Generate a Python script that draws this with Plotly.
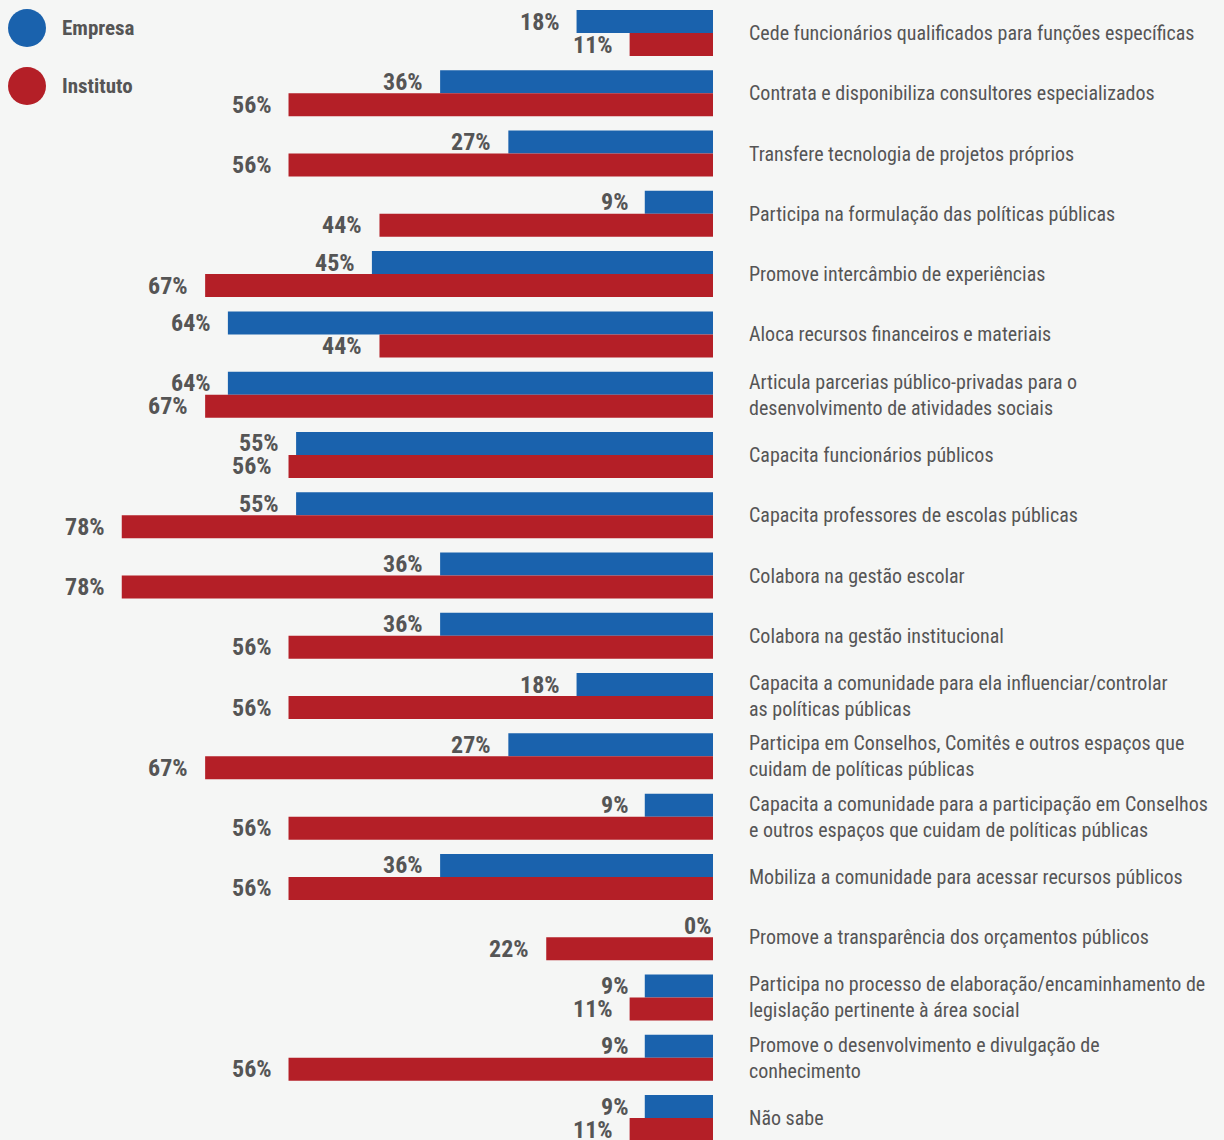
import plotly.graph_objects as go

categories = [
    "Cede funcionários qualificados para funções específicas",
    "Contrata e disponibiliza consultores especializados",
    "Transfere tecnologia de projetos próprios",
    "Participa na formulação das políticas públicas",
    "Promove intercâmbio de experiências",
    "Aloca recursos financeiros e materiais",
    "Articula parcerias público-privadas para o<br>desenvolvimento de atividades sociais",
    "Capacita funcionários públicos",
    "Capacita professores de escolas públicas",
    "Colabora na gestão escolar",
    "Colabora na gestão institucional",
    "Capacita a comunidade para ela influenciar/controlar<br>as políticas públicas",
    "Participa em Conselhos, Comitês e outros espaços que<br>cuidam de políticas públicas",
    "Capacita a comunidade para a participação em Conselhos<br>e outros espaços que cuidam de políticas públicas",
    "Mobiliza a comunidade para acessar recursos públicos",
    "Promove a transparência dos orçamentos públicos",
    "Participa no processo de elaboração/encaminhamento de<br>legislação pertinente à área social",
    "Promove o desenvolvimento e divulgação de<br>conhecimento",
    "Não sabe",
]
empresa = [18, 36, 27, 9, 45, 64, 64, 55, 55, 36, 36, 18, 27, 9, 36, 0, 9, 9, 9]
instituto = [11, 56, 56, 44, 67, 44, 67, 56, 78, 78, 56, 56, 67, 56, 56, 22, 11, 56, 11]

BLUE = "#1a62ad"
RED = "#b41f27"
GRAY = "#555555"
BG = "#f5f6f5"
FONT = "Roboto Condensed"

W, H = 1224, 1140
ZERO_PX = 713          # pixel where bars start
PX_PER_PCT = 7.58
ROW = 60.28            # row pitch in pixels
FIRST_ROW = 33         # center of first row in pixels

fig = go.Figure()
fig.add_trace(go.Bar(y=categories, x=empresa, orientation="h", name="Empresa",
                     marker=dict(color=BLUE, line=dict(width=0))))
fig.add_trace(go.Bar(y=categories, x=instituto, orientation="h", name="Instituto",
                     marker=dict(color=RED, line=dict(width=0))))

annotations = []
for cat, e, i in zip(categories, empresa, instituto):
    # value labels, left of each bar
    for v, ys in ((e, 11.5), (i, -11.5)):
        annotations.append(dict(
            x=v, y=cat, xref="x", yref="y", text=f"<b>{v}%</b>",
            showarrow=False, xanchor="right", yanchor="middle",
            xshift=-15 if v > 0 else 0, yshift=ys,
            font=dict(family=FONT, size=24, color=GRAY)))
    # category label on the right
    annotations.append(dict(
        x=747 / ZERO_PX, y=cat, xref="paper", yref="y", text=cat,
        showarrow=False, xanchor="left", yanchor="middle", align="left",
        font=dict(family=FONT, size=20, color=GRAY)))

# legend drawn by hand
shapes = []
for name, color, cy in (("Empresa", BLUE, 28), ("Instituto", RED, 86)):
    shapes.append(dict(type="circle", xref="paper", yref="paper",
                       x0=8 / ZERO_PX, x1=46 / ZERO_PX,
                       y0=1 - (cy + 19) / H, y1=1 - (cy - 19) / H,
                       fillcolor=color, line=dict(width=0)))
    annotations.append(dict(x=60 / ZERO_PX, y=1 - cy / H, xref="paper", yref="paper",
                            text=f"<b>{name}</b>", showarrow=False,
                            xanchor="left", yanchor="middle",
                            font=dict(family=FONT, size=21, color=GRAY)))

fig.update_layout(
    width=W, height=H,
    margin=dict(l=0, r=W - ZERO_PX, t=0, b=0),
    paper_bgcolor=BG, plot_bgcolor=BG,
    barmode="group", bargap=1 - 46 / ROW, bargroupgap=0,
    showlegend=False,
    xaxis=dict(range=[ZERO_PX / PX_PER_PCT, 0], visible=False, fixedrange=True),
    yaxis=dict(categoryorder="array", categoryarray=categories,
               range=[(H - FIRST_ROW) / ROW, -FIRST_ROW / ROW],
               visible=False, fixedrange=True),
    annotations=annotations,
    shapes=shapes,
)

fig.write_html("out.html", config={"displayModeBar": False},
               post_script="document.body.style.margin='0';document.body.style.background='#f5f6f5';")
